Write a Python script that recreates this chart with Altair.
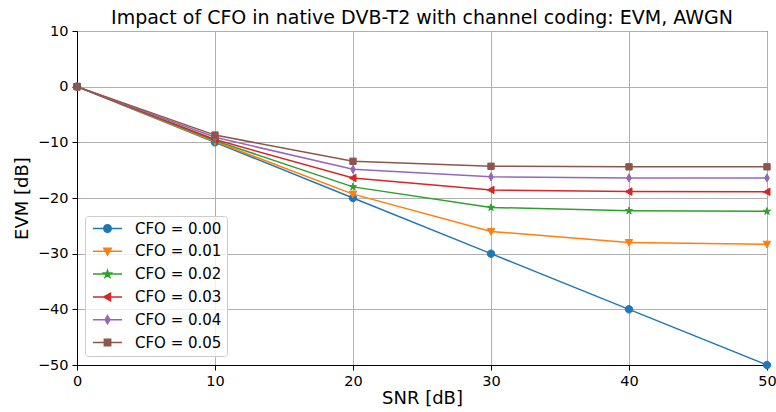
import altair as alt
import pandas as pd

# ---- data ----
snr = [0, 10, 20, 30, 40, 50]
labels = ["CFO = 0.00", "CFO = 0.01", "CFO = 0.02", "CFO = 0.03", "CFO = 0.04", "CFO = 0.05"]
evm_000 = [0, -10.0, -20.0, -30.0, -40.0, -50.0]
evm_001 = [0, -9.85, -19.3, -26.0, -28.0, -28.3]
evm_002 = [0, -9.7, -18.0, -21.7, -22.3, -22.4]
evm_003 = [0, -9.5, -16.4, -18.55, -18.85, -18.9]
evm_004 = [0, -9.1, -14.85, -16.2, -16.4, -16.4]
evm_005 = [0, -8.7, -13.4, -14.3, -14.4, -14.4]
series = [evm_000, evm_001, evm_002, evm_003, evm_004, evm_005]

colors = ["#1f77b4", "#ff7f0e", "#2ca02c", "#d62728", "#9467bd", "#8c564b"]
marker_paths = [
    "M-1,0A1,1 0 1,0 1,0A1,1 0 1,0 -1,0Z",
    "M-1,-0.8L1,-0.8L0,1Z",
    "M0,-1L0.2245,-0.309L0.951,-0.309L0.363,0.118L0.588,0.809L0,0.382L-0.588,0.809L-0.363,0.118L-0.951,-0.309L-0.2245,-0.309Z",
    "M-1,0L0.8,-1L0.8,1Z",
    "M0,-1.1L0.62,0L0,1.1L-0.62,0Z",
    "M-0.85,-0.85H0.85V0.85H-0.85Z",
]
legend_paths = ["M-3.9,0H3.9" + p for p in marker_paths]

rows = []
for lab, vals in zip(labels, series):
    for s, v in zip(snr, vals):
        rows.append({"snr": s, "evm": v, "series": lab})
df = pd.DataFrame(rows)

FONT = "DejaVu Sans"

x = alt.X("snr:Q",
          scale=alt.Scale(domain=[0, 50], nice=False, zero=False),
          axis=alt.Axis(values=[0, 10, 20, 30, 40, 50], title="SNR [dB]", format="d",
                        titlePadding=2))
y = alt.Y("evm:Q",
          scale=alt.Scale(domain=[-50, 10], nice=False, zero=False),
          axis=alt.Axis(values=[-50, -40, -30, -20, -10, 0, 10], title="EVM [dB]", format="d",
                        titlePadding=6))

base = alt.Chart(df)

layers = []
for i, lab in enumerate(labels):
    sub = base.transform_filter(alt.datum.series == lab)
    layers.append(sub.mark_line(strokeWidth=1.5, color=colors[i]).encode(x=x, y=y))
    layers.append(
        sub.mark_point(shape=marker_paths[i], filled=True, size=56, opacity=1,
                       fill=colors[i], stroke=colors[i], strokeWidth=1)
        .encode(x=x, y=y)
    )

leg = alt.Legend(
    orient="none", legendX=8, legendY=185, title=None,
    labelFontSize=15, labelFont=FONT, labelColor="black", labelLimit=0,
    symbolSize=56, symbolStrokeWidth=1.5, symbolOffset=10, labelOffset=20,
    rowPadding=6.8, padding=5, strokeColor="#cccccc", fillColor="rgba(255,255,255,0.8)",
    cornerRadius=3, symbolOpacity=1,
)

legend_layer = base.mark_point(filled=True, opacity=0, size=56).encode(
    x=x, y=y,
    color=alt.Color("series:N", scale=alt.Scale(domain=labels, range=colors), legend=leg),
    stroke=alt.Stroke("series:N", scale=alt.Scale(domain=labels, range=colors), legend=leg),
    shape=alt.Shape("series:N", scale=alt.Scale(domain=labels, range=legend_paths), legend=leg),
)

chart = alt.layer(*layers, legend_layer).properties(
    width=690, height=334,
    title=alt.TitleParams("Impact of CFO in native DVB-T2 with channel coding: EVM, AWGN",
                          fontSize=19, font=FONT, fontWeight="normal", color="black",
                          anchor="middle", frame="group", offset=4, dy=9),
    autosize=alt.AutoSizeParams(type="none"),
    padding={"left": 77, "top": 31, "right": 9, "bottom": 47},
    background="white",
).configure_view(
    stroke="black", strokeWidth=1
).configure_axis(
    domainColor="black", domainWidth=1, tickColor="black", tickSize=5, tickWidth=1,
    labelFont=FONT, labelFontSize=14.5, labelColor="black", labelPadding=4,
    titleFont=FONT, titleFontSize=18, titleFontWeight="normal", titleColor="black",
    gridColor="#b0b0b0", gridWidth=1, labelFlush=False,
)

chart.save("out.html", embed_options={"renderer": "svg", "actions": False})
